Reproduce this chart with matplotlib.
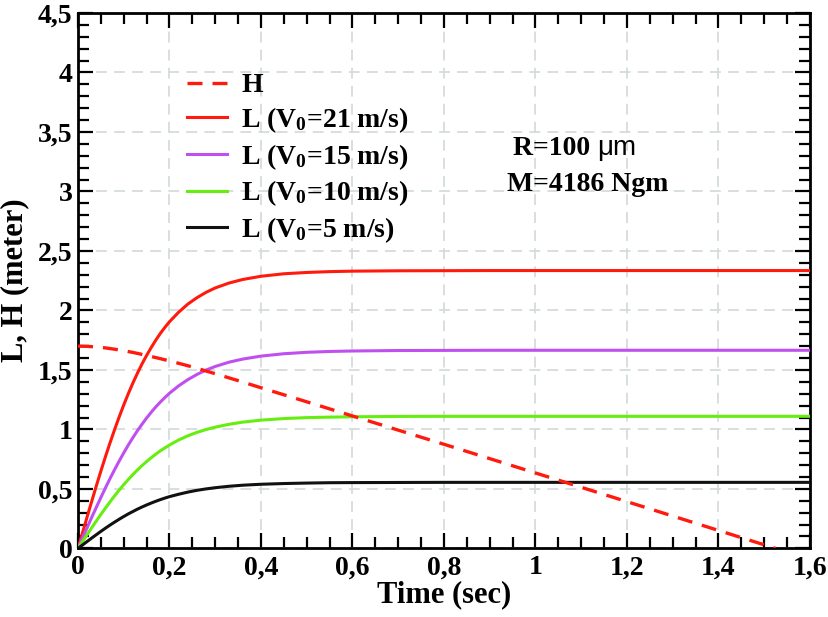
import matplotlib
matplotlib.use("Agg")
import matplotlib.pyplot as plt
from matplotlib.ticker import MultipleLocator, FuncFormatter

# ---- data ----
t_L = [0, 0.01, 0.02, 0.03, 0.04, 0.05, 0.06, 0.07, 0.08, 0.09, 0.10, 0.11, 0.12,
       0.13, 0.14, 0.15, 0.16, 0.17, 0.18, 0.19, 0.20, 0.22, 0.24, 0.26, 0.28,
       0.30, 0.33, 0.36, 0.40, 0.45, 0.50, 0.55, 0.60, 0.70, 0.80, 0.90, 1.00,
       1.20, 1.40, 1.60]
L_21 = [0, 0.133, 0.266, 0.396, 0.525, 0.650, 0.771, 0.887, 0.999, 1.105, 1.206,
        1.301, 1.390, 1.473, 1.551, 1.622, 1.688, 1.750, 1.807, 1.858, 1.905,
        1.985, 2.053, 2.107, 2.152, 2.189, 2.230, 2.260, 2.287, 2.308, 2.319,
        2.326, 2.330, 2.333, 2.334, 2.335, 2.335, 2.335, 2.335, 2.335]
L_15 = [0, 0.088, 0.175, 0.261, 0.345, 0.428, 0.509, 0.587, 0.662, 0.734, 0.803,
        0.869, 0.931, 0.990, 1.044, 1.096, 1.144, 1.189, 1.230, 1.268, 1.304,
        1.366, 1.418, 1.462, 1.499, 1.529, 1.565, 1.591, 1.616, 1.636, 1.648,
        1.655, 1.659, 1.663, 1.664, 1.665, 1.665, 1.665, 1.665, 1.665]
L_10 = [0, 0.058, 0.116, 0.174, 0.230, 0.286, 0.339, 0.391, 0.442, 0.490, 0.536,
        0.579, 0.621, 0.660, 0.696, 0.730, 0.762, 0.792, 0.820, 0.845, 0.869,
        0.911, 0.946, 0.975, 0.999, 1.019, 1.043, 1.061, 1.078, 1.091, 1.099,
        1.103, 1.106, 1.109, 1.110, 1.11, 1.11, 1.11, 1.11, 1.11]
L_5 = [0, 0.029, 0.058, 0.087, 0.115, 0.143, 0.170, 0.196, 0.221, 0.245, 0.268,
       0.290, 0.310, 0.330, 0.348, 0.365, 0.381, 0.396, 0.410, 0.423, 0.435,
       0.455, 0.473, 0.488, 0.500, 0.510, 0.522, 0.531, 0.539, 0.545, 0.549,
       0.552, 0.553, 0.554, 0.555, 0.555, 0.555, 0.555, 0.555, 0.555]
t_H = [0, 0.02, 0.04, 0.06, 0.08, 0.10, 0.12, 0.15, 0.20, 0.25, 0.30, 0.35,
       0.40, 0.50, 0.60, 0.70, 0.80, 1.00, 1.20, 1.40, 1.525]
H = [1.70, 1.698, 1.693, 1.685, 1.674, 1.661, 1.647, 1.622, 1.576, 1.525, 1.468,
     1.410, 1.350, 1.232, 1.113, 0.994, 0.875, 0.634, 0.393, 0.151, 0.0]

labels = ["H", r"L (V$_0$=21 m/s)", r"L (V$_0$=15 m/s)",
          r"L (V$_0$=10 m/s)", r"L (V$_0$=5 m/s)"]
x_label = "Time (sec)"
y_label = "L, H (meter)"
note1 = "R=100 "
note1_unit = "\u03bcm"
note2 = "M=4186 Ngm"

# ---- style ----
plt.rcParams["font.family"] = ["Liberation Serif", "DejaVu Serif"]
plt.rcParams["font.weight"] = "bold"
plt.rcParams["mathtext.fontset"] = "custom"
plt.rcParams["mathtext.rm"] = "Liberation Serif:bold"
plt.rcParams["mathtext.it"] = "Liberation Serif:bold"
plt.rcParams["mathtext.bf"] = "Liberation Serif:bold"
plt.rcParams["mathtext.default"] = "rm"

fig = plt.figure(figsize=(8.29, 6.17), dpi=100)
ax = fig.add_axes([0.0941, 0.1112, 0.8829, 0.8678])

red = "#ff1a0d"
purple = "#c04ff0"
green = "#66ee11"

ax.plot(t_H, H, color=red, lw=2.4, ls=(0, (4.5, 3)), label=labels[0], zorder=4)
ax.plot(t_L, L_21, color=red, lw=2.2, label=labels[1], zorder=3)
ax.plot(t_L, L_15, color=purple, lw=2.2, label=labels[2], zorder=3)
ax.plot(t_L, L_10, color=green, lw=2.2, label=labels[3], zorder=3)
ax.plot(t_L, L_5, color="#111111", lw=2.2, label=labels[4], zorder=3)

ax.set_xlim(0, 1.6)
ax.set_ylim(0, 4.5)
ax.xaxis.set_major_locator(MultipleLocator(0.2))
ax.xaxis.set_minor_locator(MultipleLocator(0.05))
ax.yaxis.set_major_locator(MultipleLocator(0.5))
ax.yaxis.set_minor_locator(MultipleLocator(0.1))

def fmt(v, pos):
    s = ("%.1f" % v)
    if s.endswith(".0"):
        s = s[:-2]
    return s.replace(".", ",")

ax.xaxis.set_major_formatter(FuncFormatter(fmt))
ax.yaxis.set_major_formatter(FuncFormatter(fmt))

ax.tick_params(which="both", direction="in", top=True, right=True, width=1.6,
               labelsize=20, color="black")
ax.tick_params(which="major", length=11)
ax.tick_params(axis="x", which="major", pad=5)
ax.tick_params(axis="y", which="major", pad=4)
ax.tick_params(which="minor", length=8)
for lab in ax.get_xticklabels() + ax.get_yticklabels():
    lab.set_fontweight("bold")
for sp in ax.spines.values():
    sp.set_linewidth(2)

ax.grid(True, which="major", color="#d5dbdb", lw=1.3, ls=(0, (6, 4)))
ax.set_axisbelow(True)

ax.set_xlabel(x_label, fontsize=22, fontweight="bold", labelpad=0)
ax.set_ylabel(y_label, fontsize=22, fontweight="bold", labelpad=6)

leg = ax.legend(loc="upper left", bbox_to_anchor=(0.134, 0.909), frameon=False,
                fontsize=20, handlelength=1.45, handletextpad=0.5,
                labelspacing=0.25, borderaxespad=0)

t1 = ax.text(0.951, 3.31, note1, fontsize=20, fontweight="bold", va="baseline")
ax.annotate(note1_unit, xy=(1, 0), xycoords=t1, va="bottom", ha="left",
            fontsize=20, fontweight="normal", family="Liberation Sans")
ax.text(0.938, 3.0, note2, fontsize=20, fontweight="bold", va="baseline")

fig.savefig("out.png", dpi=100)
